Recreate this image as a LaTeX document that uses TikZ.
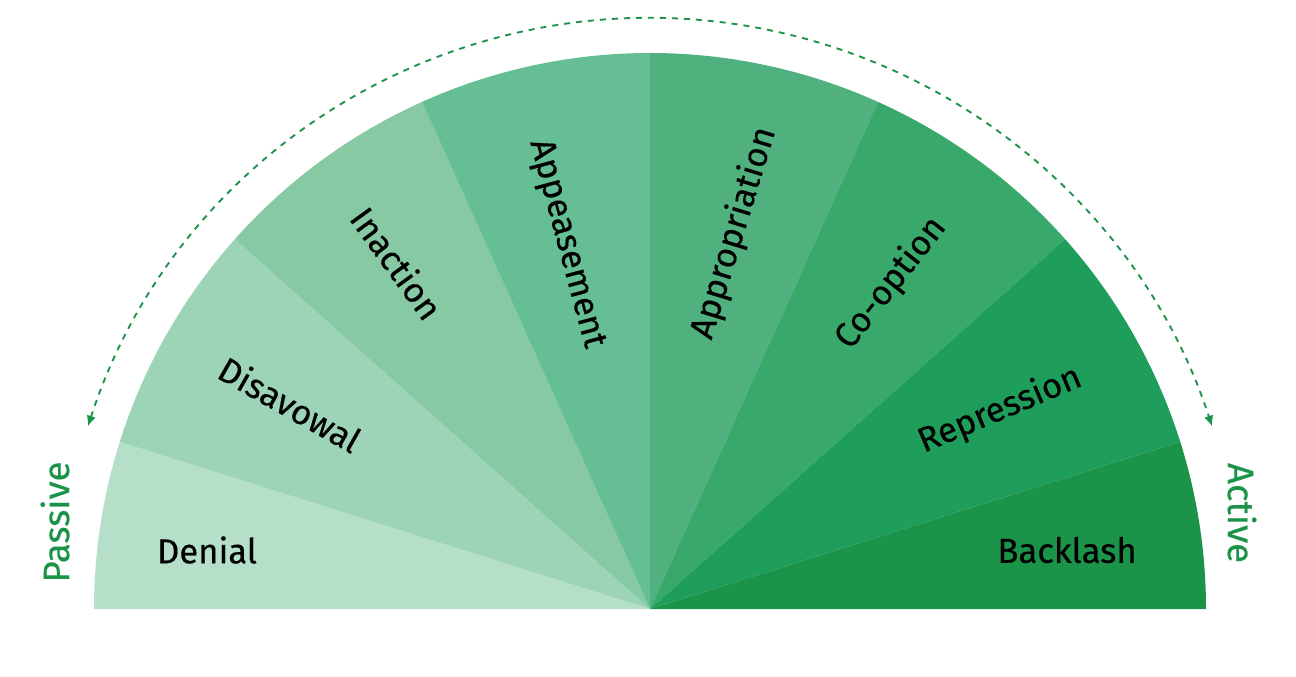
\documentclass[tikz,border=0pt]{standalone}
\usepackage{fontspec}
\setmainfont{Fira Sans}
\newfontfamily\lblfont{Fira Sans}[UprightFeatures={FakeBold=0.35}]
\usetikzlibrary{arrows.meta}
\definecolor{cA}{HTML}{B5DFC9}
\definecolor{cB}{HTML}{9DD4B8}
\definecolor{cC}{HTML}{87C9A3}
\definecolor{cD}{HTML}{66BE94}
\definecolor{cE}{HTML}{50B17F}
\definecolor{cF}{HTML}{38A96B}
\definecolor{cG}{HTML}{1F9E5B}
\definecolor{cH}{HTML}{1B9348}
\definecolor{gline}{HTML}{1B9348}
\tikzset{
  lbl/.style={inner sep=0pt, font=\lblfont\fontsize{26}{30}\selectfont, text=black},
  side/.style={inner sep=0pt, font=\lblfont\fontsize{27.5}{32}\selectfont, text=gline},
  flow/.style={draw=gline, line width=1.4pt, dash pattern=on 4.5pt off 4.5pt,
    {Latex[length=8pt,width=7pt]}-{Latex[length=8pt,width=7pt]}}
}
\begin{document}
\begin{tikzpicture}[x=0.75pt,y=0.75pt]
\useasboundingbox (0,0) rectangle (1296,676);
\begin{scope}[shift={(650,67)}]
  \def\R{556}
  \fill[cA] (0,0) -- (180:\R) arc[start angle=180, end angle=162.5, radius=\R] -- cycle;
  \fill[cB] (0,0) -- (162.5:\R) arc[start angle=162.5, end angle=138.3, radius=\R] -- cycle;
  \fill[cC] (0,0) -- (138.3:\R) arc[start angle=138.3, end angle=114.2, radius=\R] -- cycle;
  \fill[cD] (0,0) -- (114.2:\R) arc[start angle=114.2, end angle=90, radius=\R] -- cycle;
  \fill[cE] (0,0) -- (90:\R) arc[start angle=90, end angle=65.8, radius=\R] -- cycle;
  \fill[cF] (0,0) -- (65.8:\R) arc[start angle=65.8, end angle=41.7, radius=\R] -- cycle;
  \fill[cG] (0,0) -- (41.7:\R) arc[start angle=41.7, end angle=17.5, radius=\R] -- cycle;
  \fill[cH] (0,0) -- (17.5:\R) arc[start angle=17.5, end angle=0, radius=\R] -- cycle;
  \coordinate (arcstart) at (162:591);
  \draw[flow] (arcstart) arc[start angle=162, end angle=18, radius=591];
\end{scope}
\node[lbl] (denial) at (207,126) {Denial};
\node[lbl, rotate=-29.5] (disavowal) at (290,272) {Disavowal};
\node[lbl, rotate=-54] (inaction) at (397,413) {Inaction};
\node[lbl, rotate=-75] (appeasement) at (566,432) {Appeasement};
\node[lbl, rotate=73] (appropriation) at (734,443) {Appropriation};
\node[lbl, rotate=52] (cooption) at (891,393) {Co-option};
\node[lbl, rotate=23] (repression) at (1000,266) {Repression};
\node[lbl] (backlash) at (1067,126) {Backlash};
\node[side, rotate=90] (passive) at (55,154) {Passive};
\node[side, rotate=-90] (active) at (1242,163) {Active};
\end{tikzpicture}
\end{document}
